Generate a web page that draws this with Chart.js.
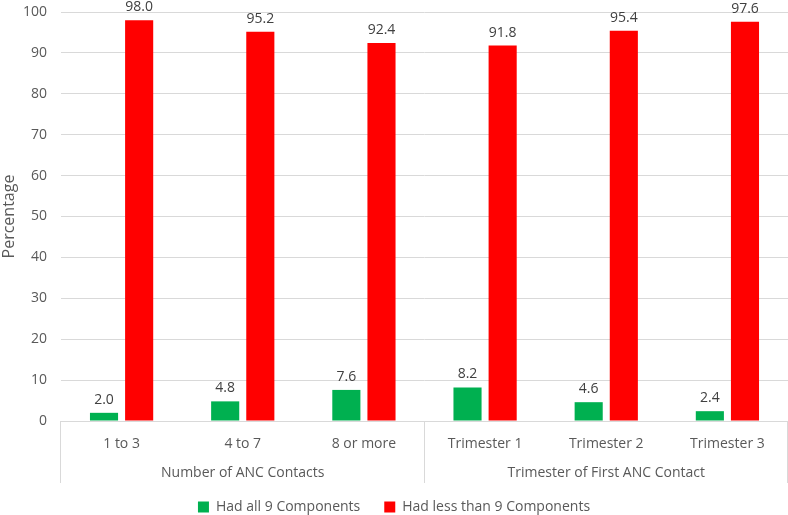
<!DOCTYPE html>
<html><head><meta charset="utf-8">
<script src="https://cdn.jsdelivr.net/npm/chart.js@4"></script>
<style>html,body{margin:0;padding:0;background:#fff}#w{width:788px;height:515px;position:relative}</style>
</head><body><div id="w"><canvas id="c"></canvas></div>
<script>
const categories = ['1 to 3','4 to 7','8 or more','Trimester 1','Trimester 2','Trimester 3'];
const groups = ['Number of ANC Contacts','Trimester of First ANC Contact'];
const groupSizes = [3,3];
const hadAll = [2.0,4.8,7.6,8.2,4.6,2.4];
const hadLess = [98.0,95.2,92.4,91.8,95.4,97.6];
const yTicks = [0,10,20,30,40,50,60,70,80,90,100];

const FONT = "'Open Sans', sans-serif";
const TXT = '#595959';

const extras = {
  id:'extras',
  afterDatasetsDraw(chart){
    const ctx = chart.ctx;
    ctx.save();
    ctx.font = '14px ' + FONT;
    ctx.fillStyle = '#404040';
    ctx.textAlign = 'center';
    ctx.textBaseline = 'bottom';
    chart.data.datasets.forEach((ds,i)=>{
      chart.getDatasetMeta(i).data.forEach((bar,j)=>{
        ctx.fillText(ds.data[j].toFixed(1), bar.x, bar.y - 6);
      });
    });
    ctx.restore();
  },
  afterDraw(chart){
    const ctx = chart.ctx, x = chart.scales.x;
    const bottom = chart.chartArea.bottom;
    const half = (x.getPixelForValue(1) - x.getPixelForValue(0))/2;
    ctx.save();
    ctx.strokeStyle = '#d9d9d9';
    ctx.lineWidth = 1;
    let idx = 0;
    const bounds = [x.getPixelForValue(0) - half];
    groupSizes.forEach(s=>{ idx += s; bounds.push(x.getPixelForValue(idx-1) + half); });
    bounds.forEach(b=>{
      const bx = Math.min(Math.round(b), chart.width) - 0.5;
      ctx.beginPath(); ctx.moveTo(bx, bottom); ctx.lineTo(bx, bottom + 62); ctx.stroke();
    });
    ctx.font = '14px ' + FONT;
    ctx.fillStyle = TXT;
    ctx.textAlign = 'center';
    ctx.textBaseline = 'middle';
    groups.forEach((g,i)=>{
      ctx.fillText(g, (bounds[i]+bounds[i+1])/2, bottom + 52);
    });
    ctx.restore();
  }
};

new Chart(document.getElementById('c'), {
  type:'bar',
  data:{
    labels: categories,
    datasets:[
      {label:'Had all 9 Components', data: hadAll, backgroundColor:'#00B050', categoryPercentage:0.58, barPercentage:0.8},
      {label:'Had less than 9 Components', data: hadLess, backgroundColor:'#FF0000', categoryPercentage:0.58, barPercentage:0.8}
    ]
  },
  plugins:[extras],
  options:{
    responsive:true, maintainAspectRatio:false, animation:false,
    layout:{padding:{top:12,right:0,left:0,bottom:0}},
    plugins:{
      legend:{position:'bottom', maxHeight:39, labels:{font:{family:FONT,size:14}, color:TXT, boxWidth:11, boxHeight:11, padding:24}},
      tooltip:{enabled:false}
    },
    scales:{
      x:{
        grid:{display:false},
        border:{color:'#d9d9d9'},
        ticks:{font:{family:FONT,size:14}, color:TXT, padding:7},
        afterFit(s){ s.height = 55; }
      },
      y:{
        min:0, max:100,
        afterBuildTicks(s){ s.ticks = yTicks.map(v=>({value:v})); },
        grid:{color:'#d9d9d9', drawTicks:false},
        border:{display:false},
        ticks:{font:{family:FONT,size:14}, color:TXT, padding:14},
        title:{display:true, text:'Percentage', font:{family:FONT,size:16}, color:TXT, padding:0},
        afterFit(s){ s.width = 61; s.paddingTop = 0; s.paddingBottom = 0; }
      }
    }
  }
});
</script></body></html>
